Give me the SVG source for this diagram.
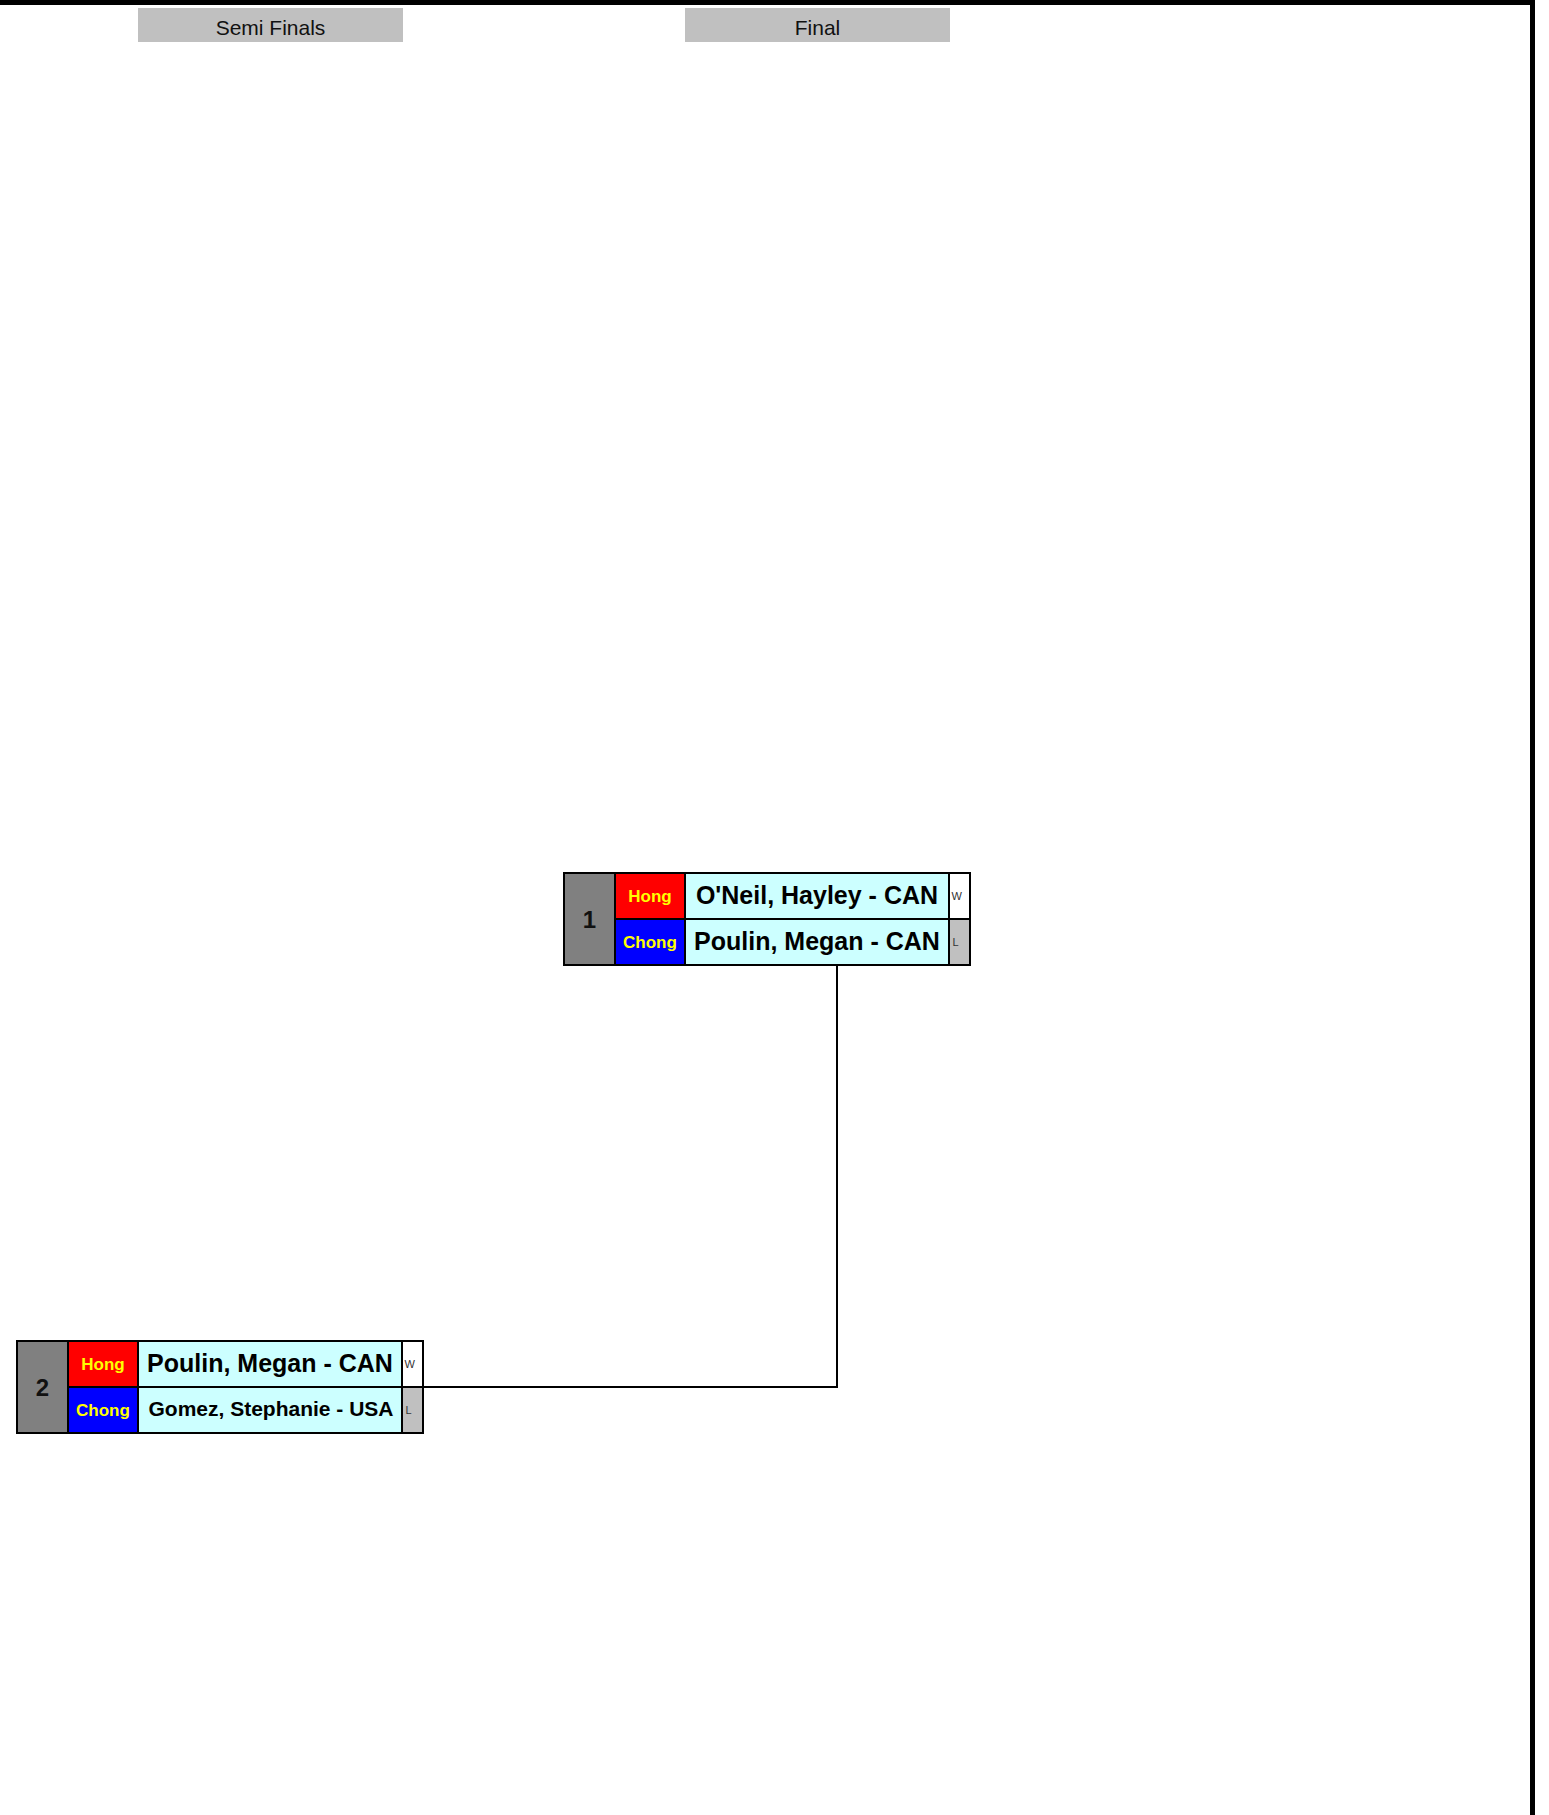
<svg xmlns="http://www.w3.org/2000/svg" width="1549" height="1815" viewBox="0 0 1549 1815">
<style>
.hdr{fill:#c0c0c0;}
.htxt{font-family:"Liberation Sans",Arial,sans-serif;font-size:21px;fill:#111;text-anchor:middle;}
.cell{stroke:#000;stroke-width:2;}
.num{fill:#808080;}
.hong{fill:#ff0000;}
.chong{fill:#0000ff;}
.name{fill:#ccffff;}
.win{fill:#ffffff;}
.lose{fill:#c0c0c0;}
.ntxt{font-family:"Liberation Sans",Arial,sans-serif;font-weight:bold;font-size:24px;fill:#111;text-anchor:middle;}
.ctxt{font-family:"Liberation Sans",Arial,sans-serif;font-weight:bold;font-size:17px;fill:#ffff00;text-anchor:middle;}
.ptxt{font-family:"Liberation Sans",Arial,sans-serif;font-weight:bold;font-size:25px;fill:#000;text-anchor:middle;}
.wtxt{font-family:"Liberation Sans",Arial,sans-serif;font-size:11px;fill:#333;}
.conn{fill:none;stroke:#000;stroke-width:2;}
</style>
<rect x="0" y="0" width="1549" height="1815" fill="#ffffff"/>
<g id="frame">
<rect x="0" y="0" width="1535" height="5" fill="#000"/>
<rect x="1530" y="0" width="5" height="1815" fill="#000"/>
</g>
<g id="header-semi">
<rect class="hdr" x="138" y="8" width="265" height="34"/>
<text class="htxt" x="270.5" y="34.5">Semi Finals</text>
</g>
<g id="header-final">
<rect class="hdr" x="685" y="8" width="265" height="34"/>
<text class="htxt" x="817.5" y="34.5">Final</text>
</g>
<g id="connectors">
<path class="conn" d="M423,1387 H837 V965"/>
</g>
<g id="match-1">
<rect class="cell num" x="564" y="873" width="51" height="92"/>
<rect class="cell hong" x="615" y="873" width="70" height="46"/>
<rect class="cell chong" x="615" y="919" width="70" height="46"/>
<rect class="cell name" x="685" y="873" width="264" height="46"/>
<rect class="cell name" x="685" y="919" width="264" height="46"/>
<rect class="cell win" x="949" y="873" width="21" height="46"/>
<rect class="cell lose" x="949" y="919" width="21" height="46"/>
<text class="ntxt" x="589.5" y="927.5">1</text>
<text class="ctxt" x="650" y="902">Hong</text>
<text class="ctxt" x="650" y="948">Chong</text>
<text class="ptxt" x="817" y="904">O'Neil, Hayley - CAN</text>
<text class="ptxt" x="817" y="950">Poulin, Megan - CAN</text>
<text class="wtxt" x="951.5" y="899.5">W</text>
<text class="wtxt" x="952.5" y="945.5">L</text>
</g>
<g id="match-2">
<rect class="cell num" x="17" y="1341" width="51" height="92"/>
<rect class="cell hong" x="68" y="1341" width="70" height="46"/>
<rect class="cell chong" x="68" y="1387" width="70" height="46"/>
<rect class="cell name" x="138" y="1341" width="264" height="46"/>
<rect class="cell name" x="138" y="1387" width="264" height="46"/>
<rect class="cell win" x="402" y="1341" width="21" height="46"/>
<rect class="cell lose" x="402" y="1387" width="21" height="46"/>
<text class="ntxt" x="42.5" y="1395.5">2</text>
<text class="ctxt" x="103" y="1370">Hong</text>
<text class="ctxt" x="103" y="1416">Chong</text>
<text class="ptxt" x="270" y="1372">Poulin, Megan - CAN</text>
<text class="ptxt" x="271" y="1416" style="font-size:21px">Gomez, Stephanie - USA</text>
<text class="wtxt" x="404.5" y="1367.5">W</text>
<text class="wtxt" x="405.5" y="1413.5">L</text>
</g>
</svg>
